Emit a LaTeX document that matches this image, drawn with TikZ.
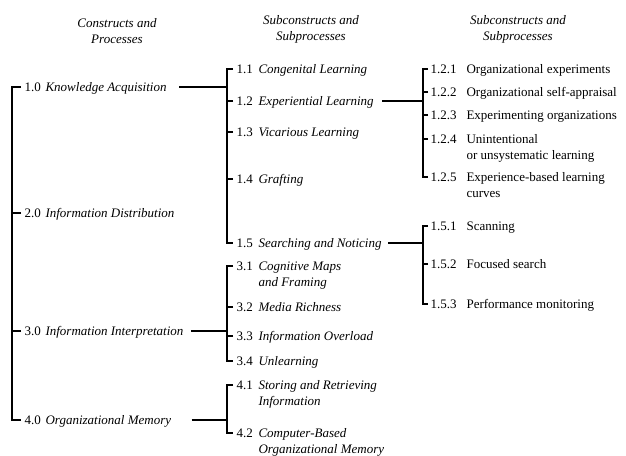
\documentclass[tikz,border=0pt]{standalone}
\usepackage{fontspec}
\setmainfont{Liberation Serif}
\newcommand{\twoline}[1]{\begin{tabular}[t]{@{}l@{}}#1\end{tabular}}
\begin{document}
\begin{tikzpicture}[x=1pt,y=-1pt,font=\fontsize{13}{16}\selectfont,line width=1.1pt,
	item/.style={anchor=base west,inner sep=0pt},
	head/.style={align=center,font=\fontsize{13}{16}\selectfont\itshape}]
	\useasboundingbox (0,0) rectangle (626,455);
	\coordinate (b1) at (12,0);
	\coordinate (b2) at (227,0);
	\coordinate (b3) at (423,0);
	% headings
	\node[head] (h1) at (117,31) {Constructs and\\Processes};
	\node[head] (h2) at (311,29.5) {Subconstructs and\\Subprocesses};
	\node[head] (h3) at (518,29.5) {Subconstructs and\\Subprocesses};
	% constructs
	\foreach \k/\no/\y/\txt in {10/1.0/87/Knowledge Acquisition,20/2.0/213/Information Distribution,
		30/3.0/331/Information Interpretation,40/4.0/420/Organizational Memory}{
		\node[item] (n\k) at (24,\y+4) {\makebox[21pt][l]{\no}\textit{\txt}};
		\coordinate (t\k) at ([shift={(-3,-4)}]n\k.base west);
	}
	% subconstructs
	\foreach \k/\no/\y/\txt in {11/1.1/69/Congenital Learning,12/1.2/101/Experiential Learning,
		13/1.3/132/Vicarious Learning,14/1.4/179/Grafting,15/1.5/243/Searching and Noticing,
		31/3.1/266/{\twoline{Cognitive Maps\\and Framing}},32/3.2/307/Media Richness,
		33/3.3/336/Information Overload,34/3.4/361/Unlearning,
		41/4.1/385/{\twoline{Storing and Retrieving\\Information}},
		42/4.2/433/{\twoline{Computer-Based\\Organizational Memory}}}{
		\node[item] (n\k) at (236,\y+4) {\makebox[22pt][l]{\no}\textit{\txt}};
		\coordinate (t\k) at ([shift={(-3,-4)}]n\k.base west);
	}
	\foreach \k/\no/\y/\txt in {121/1.2.1/69/Organizational experiments,122/1.2.2/92/Organizational self-appraisal,
		123/1.2.3/115/Experimenting organizations,124/1.2.4/139/{\twoline{Unintentional\\or unsystematic learning}},
		125/1.2.5/177/{\twoline{Experience-based learning\\curves}},
		151/1.5.1/226/Scanning,152/1.5.2/264/Focused search,153/1.5.3/304/Performance monitoring}{
		\node[item] (n\k) at (430,\y+4) {\makebox[36pt][l]{\no}\txt};
		\coordinate (t\k) at ([shift={(-2,-4)}]n\k.base west);
	}
	% brackets
	\draw (t10)--(t10-|b1)--(t40-|b1)--(t40);
	\foreach \k in {20,30} \draw (t\k)--(t\k-|b1);
	\draw (t11)--(t11-|b2)--(t15-|b2)--(t15);
	\foreach \k in {12,13,14} \draw (t\k)--(t\k-|b2);
	\draw (t31)--(t31-|b2)--(t34-|b2)--(t34);
	\foreach \k in {32,33} \draw (t\k)--(t\k-|b2);
	\draw (t41)--(t41-|b2)--(t42-|b2)--(t42);
	\draw (t121)--(t121-|b3)--(t125-|b3)--(t125);
	\foreach \k in {122,123,124} \draw (t\k)--(t\k-|b3);
	\draw (t151)--(t151-|b3)--(t153-|b3)--(t153);
	\draw (t152)--(t152-|b3);
	% links
	\draw ([xshift=12pt]n10.east|-t10)--(t10-|b2);
	\draw ([xshift=7pt]n30.east|-t30)--(t30-|b2);
	\draw ([xshift=20pt]n40.east|-t40)--(t40-|b2);
	\draw ([xshift=8pt]n12.east|-t12)--(t12-|b3);
	\draw ([xshift=6pt]n15.east|-t15)--(t15-|b3);
\end{tikzpicture}
\end{document}
